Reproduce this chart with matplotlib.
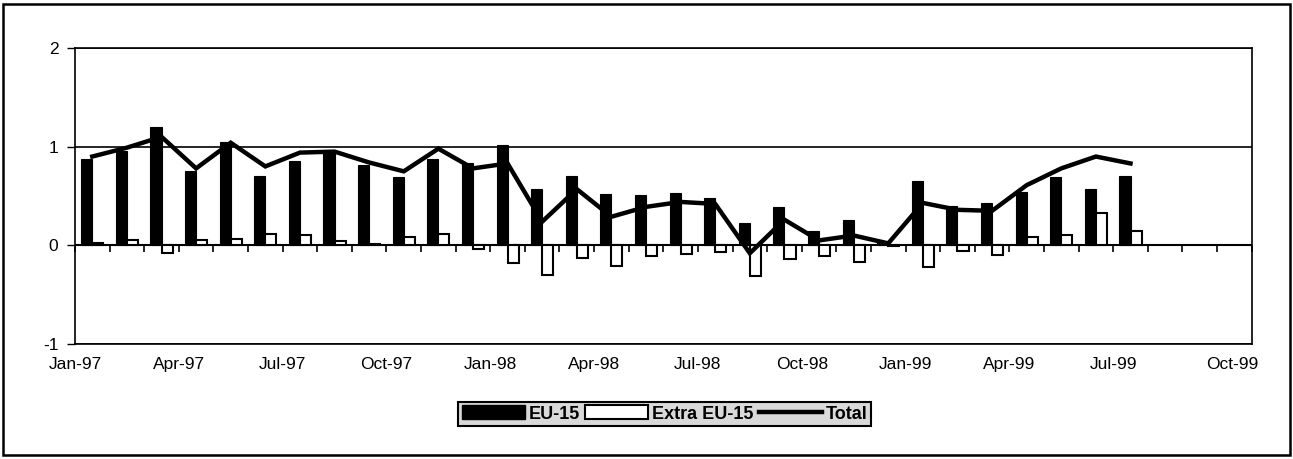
import matplotlib.pyplot as plt
from matplotlib.patches import Rectangle, Patch
from matplotlib.lines import Line2D
from matplotlib.markers import TICKDOWN
import numpy as np

plt.rcParams['font.family'] = ['Liberation Sans', 'DejaVu Sans']

# monthly data, Jan-97 .. Jul-99
months = ["Jan-97", "Feb-97", "Mar-97", "Apr-97", "May-97", "Jun-97", "Jul-97", "Aug-97",
          "Sep-97", "Oct-97", "Nov-97", "Dec-97", "Jan-98", "Feb-98", "Mar-98", "Apr-98",
          "May-98", "Jun-98", "Jul-98", "Aug-98", "Sep-98", "Oct-98", "Nov-98", "Dec-98",
          "Jan-99", "Feb-99", "Mar-99", "Apr-99", "May-99", "Jun-99", "Jul-99"]
eu15 = [0.88, 0.96, 1.20, 0.75, 1.05, 0.70, 0.85, 0.96, 0.81, 0.69, 0.88, 0.83,
        1.02, 0.57, 0.70, 0.52, 0.51, 0.53, 0.48, 0.23, 0.39, 0.15, 0.26, 0.03,
        0.65, 0.40, 0.43, 0.54, 0.69, 0.57, 0.70]
extra_eu15 = [0.02, 0.05, -0.08, 0.05, 0.06, 0.11, 0.10, 0.04, 0.01, 0.08, 0.12, -0.04,
              -0.18, -0.30, -0.13, -0.21, -0.11, -0.09, -0.07, -0.31, -0.14, -0.11, -0.17, -0.01,
              -0.22, -0.06, -0.10, 0.08, 0.10, 0.33, 0.15]
total = [0.90, 0.99, 1.10, 0.78, 1.04, 0.80, 0.94, 0.95, 0.84, 0.75, 0.98, 0.78,
         0.83, 0.24, 0.57, 0.29, 0.39, 0.44, 0.42, -0.08, 0.26, 0.05, 0.10, 0.02,
         0.43, 0.36, 0.35, 0.61, 0.78, 0.90, 0.83]

# axis labels every quarter, axis runs to Oct-99
tick_labels = ["Jan-97", "Apr-97", "Jul-97", "Oct-97", "Jan-98", "Apr-98",
               "Jul-98", "Oct-98", "Jan-99", "Apr-99", "Jul-99", "Oct-99"]
n_slots = 34

fig = plt.figure(figsize=(12.93, 4.59), dpi=100)
ax = fig.add_axes([0.058, 0.2505, 0.910, 0.6449])

x = np.arange(len(months)) + 0.5
w = 0.32
ax.bar(x - w / 2, eu15, w, color="black", edgecolor="black", linewidth=0.8, zorder=3)
ax.bar(x + w / 2, extra_eu15, w, color="white", edgecolor="black", linewidth=1.5, zorder=3)
ax.plot(x, total, color="black", linewidth=3.2, solid_joinstyle="miter", zorder=4)

ax.set_xlim(0, n_slots)
ax.set_ylim(-1, 2)
ax.set_yticks([-1, 0, 1, 2])
ax.set_yticklabels(["-1", "0", "1", "2"], fontsize=12.5)
ax.tick_params(axis="y", length=6, width=1, pad=6)
ax.yaxis.grid(True, color="black", linewidth=1.2)
ax.set_axisbelow(True)

ax.set_xticks([0, 3, 6, 9, 12, 15, 18, 21, 24, 27, 30, 33.45])
ax.set_xticklabels(tick_labels, fontsize=12.5)
ax.tick_params(axis="x", length=0, pad=9)

for s in ax.spines.values():
    s.set_color("black")
    s.set_linewidth(1.2)

# category axis crossing at zero with monthly tick marks
ax.axhline(0, color="black", linewidth=1.5, zorder=2)
boundaries = np.arange(0, n_slots + 1)
ax.plot(boundaries, np.zeros_like(boundaries), linestyle="none", marker=TICKDOWN,
        markersize=5, markeredgewidth=1.2, color="black", zorder=2, clip_on=False)

handles = [Patch(facecolor="black", edgecolor="black"),
           Patch(facecolor="white", edgecolor="black", linewidth=1.5),
           Line2D([0], [0], color="black", linewidth=3.2)]
leg = fig.legend(handles, ["EU-15", "Extra EU-15", "Total"], ncol=3,
                 loc="center", bbox_to_anchor=(0.514, 0.098), fontsize=13,
                 frameon=True, fancybox=False, edgecolor="black", facecolor="#d9d9d9",
                 handlelength=3.5, handletextpad=0.2, columnspacing=0.3,
                 borderpad=0.2, handleheight=0.8)
leg.get_frame().set_linewidth(1.5)
leg.get_frame().set_alpha(1)
for t in leg.get_texts():
    t.set_fontweight("bold")

# outer chart border
fig.patches.append(Rectangle((3 / 1293, 4 / 459), 1287 / 1293, 451 / 459,
                             transform=fig.transFigure, fill=False,
                             edgecolor="black", linewidth=1.8))

fig.savefig("out.png", dpi=100)
